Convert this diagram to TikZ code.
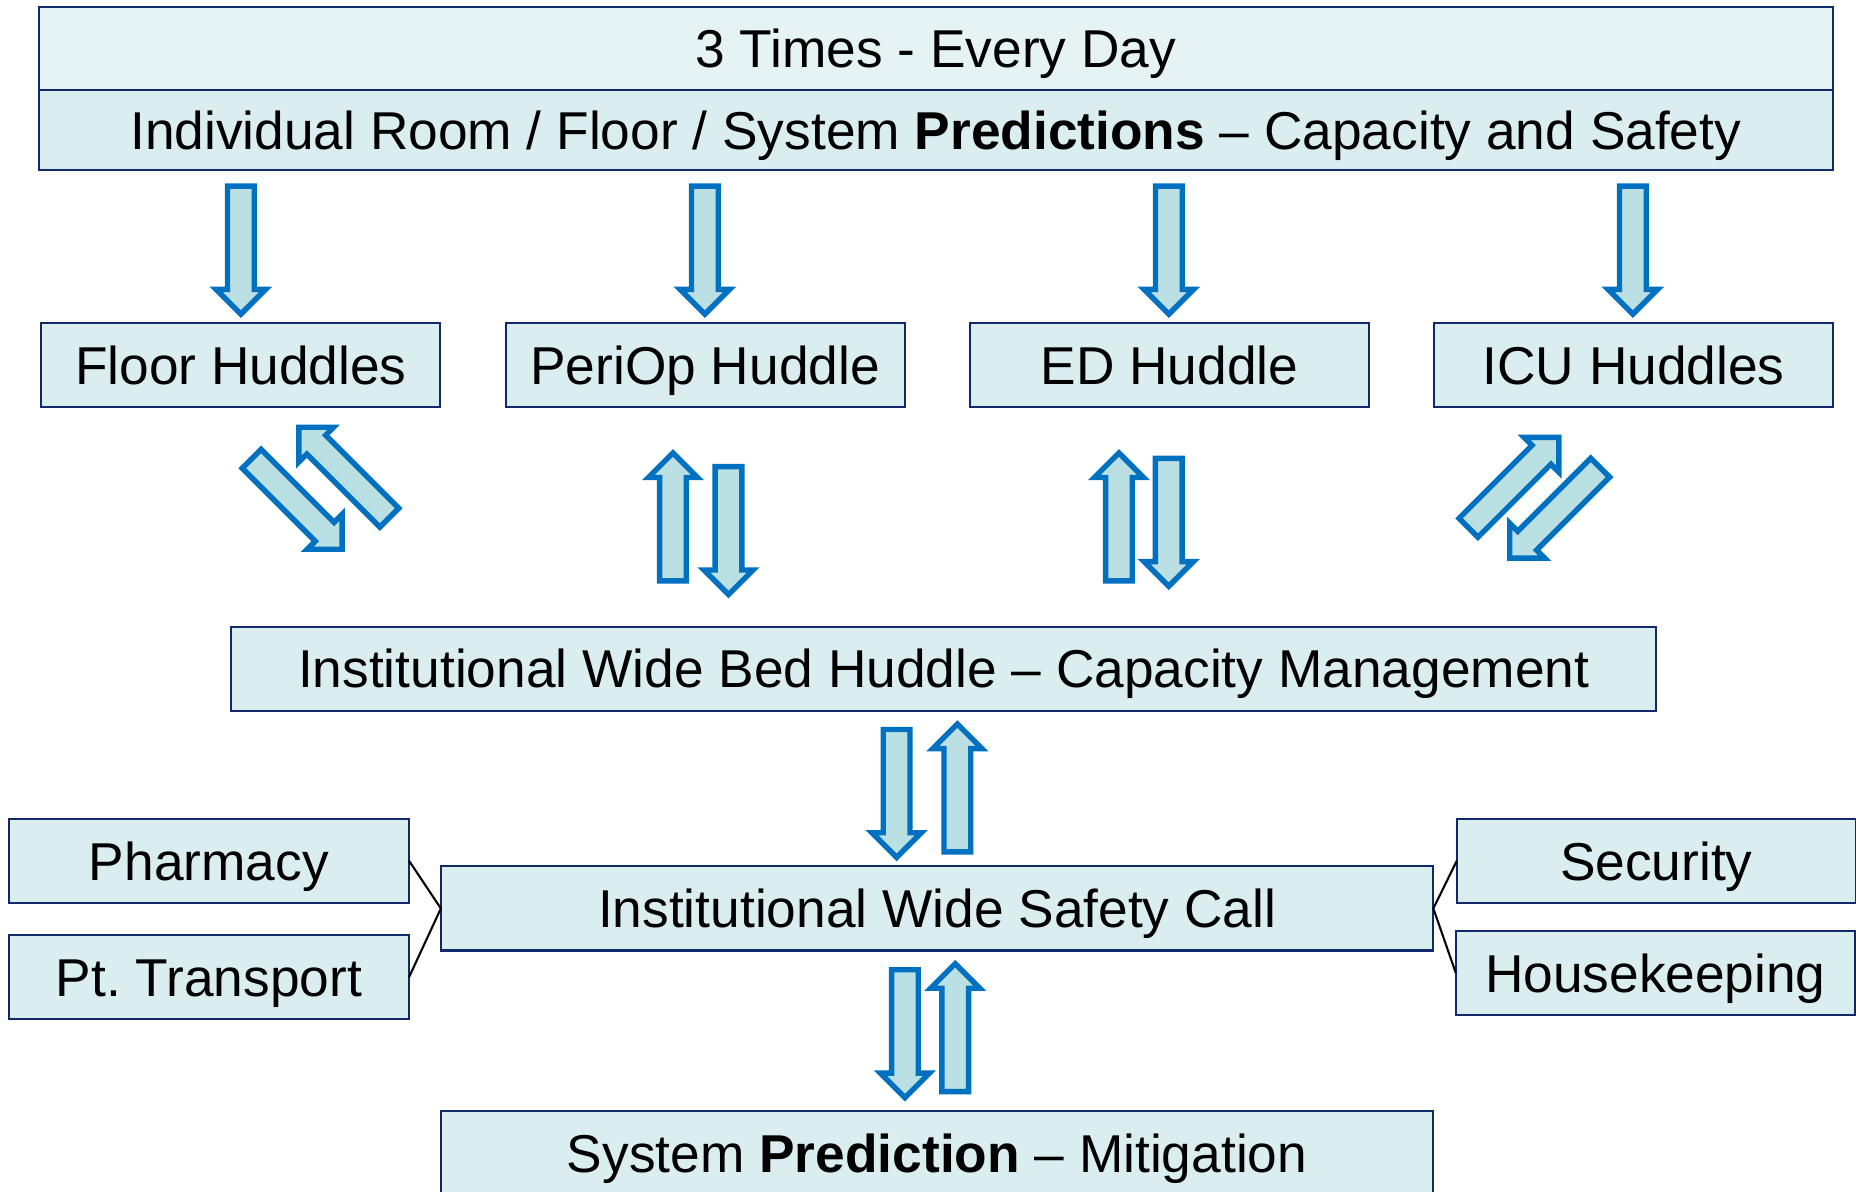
\documentclass[tikz,border=0pt]{standalone}
\usepackage{fontspec}
\setmainfont{Liberation Sans}
\usetikzlibrary{shapes.arrows, positioning}
\definecolor{boxfill}{HTML}{DAEDEF}
\definecolor{boxtop}{HTML}{E6F3F4}
\definecolor{boxline}{HTML}{10296B}
\definecolor{arrfill}{HTML}{BBE0E3}
\definecolor{arrline}{HTML}{0070C0}
\tikzset{
  box/.style={draw=boxline, line width=0.5pt, fill=boxfill, inner sep=0pt, outer sep=0pt,
    minimum height=0.71cm, text height=9.2pt, text depth=0pt,
    font=\fontsize{12.8}{15}\selectfont},
  huddlebox/.style={box, minimum width=3.37cm},
  sidebox/.style={box, minimum width=3.38cm},
  fatarrow/.style={single arrow, draw=arrline, fill=arrfill, line width=1.3pt,
    inner xsep=0pt, inner ysep=0.09cm, single arrow head extend=0.095cm,
    minimum height=1.08cm, anchor=tail}
}
\begin{document}
\begin{tikzpicture}[x=0.01cm, y=-0.01cm]
\useasboundingbox (0,0) rectangle (1568,1007);
% top
\node[box, fill=boxtop, minimum width=15.15cm, minimum height=0.70cm] (times) at (790.5,41) {3 Times - Every Day};
\node[box, minimum width=15.15cm, minimum height=0.68cm] (predict) at (790.5,110)
  {Individual Room / Floor / System \textbf{Predictions} – Capacity and Safety};
% huddles
\node[huddlebox] (floor) at (203.5,308.5) {Floor Huddles};
\node[huddlebox, right=0.55cm of floor] (periop) {PeriOp Huddle};
\node[huddlebox, right=0.55cm of periop] (ed) {ED Huddle};
\node[huddlebox, right=0.55cm of ed] (icu) {ICU Huddles};
% middle and bottom
\node[box, minimum width=12.03cm] (bed) at (797.3,565) {Institutional Wide Bed Huddle – Capacity Management};
\node[box, minimum width=8.38cm] (safety) at (791.7,767.5) {Institutional Wide Safety Call};
\node[box, minimum width=8.38cm] (mitig) at (791.7,974) {System \textbf{Prediction} – Mitigation};
\node[sidebox] (pharm) at (176.5,727.3) {Pharmacy};
\node[sidebox] (transp) at (176.5,825.5) {Pt.\ Transport};
\node[huddlebox] (secur) at (1399.3,727.3) {Security};
\node[huddlebox] (house) at (1398.5,822) {Housekeeping};
\draw[line width=0.5pt] (pharm.east) -- (safety.west) -- (transp.east);
\draw[line width=0.5pt] (secur.west) -- (safety.east) -- (house.west);
% fat arrows
\node[fatarrow, rotate=-90] (af) at (203.5,155) {};
\node[fatarrow, rotate=-90] (ap) at (595.5,155) {};
\node[fatarrow, rotate=-90] (ae) at (987.5,155) {};
\node[fatarrow, rotate=-90] (ai) at (1379.5,155) {};
\node[fatarrow, rotate=-45] (fdown) at (211,386) {};
\node[fatarrow, rotate=135] (fup) at (330.5,439) {};
\node[fatarrow, rotate=90] (pup) at (568.5,493) {};
\node[fatarrow, rotate=-90] (pdown) at (615.5,392) {};
\node[fatarrow, rotate=90] (eup) at (945.3,493) {};
\node[fatarrow, rotate=-90] (edown) at (987.4,385) {};
\node[fatarrow, rotate=45] (iup) at (1239,447.5) {};
\node[fatarrow, rotate=-135] (idown) at (1353.5,393.5) {};
\node[fatarrow, rotate=-90] (bdown) at (757.5,614) {};
\node[fatarrow, rotate=90] (bup) at (808.8,722) {};
\node[fatarrow, rotate=-90] (sdown) at (764.5,817) {};
\node[fatarrow, rotate=90] (sup) at (807,924.5) {};
\end{tikzpicture}
\end{document}
